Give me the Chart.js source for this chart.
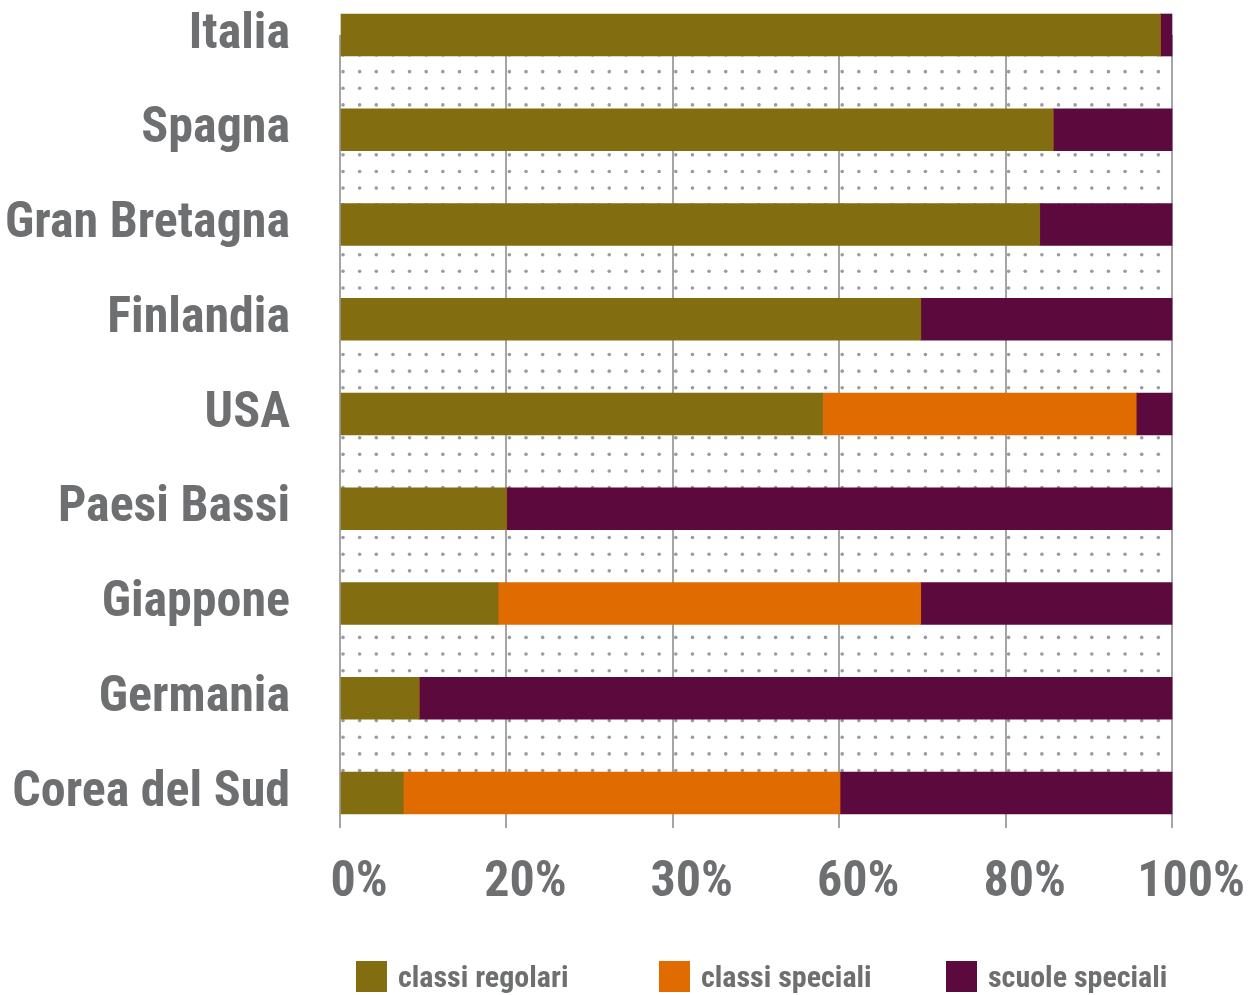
<!DOCTYPE html>
<html lang="it">
<head>
<meta charset="utf-8">
<title>Alunni con disabilità: classi regolari, classi speciali, scuole speciali</title>
<script src="https://cdn.jsdelivr.net/npm/chart.js@4/dist/chart.umd.min.js"></script>
<style>
  html, body { margin: 0; padding: 0; background: #fff; overflow: hidden; }
  #wrap { position: relative; width: 1254px; height: 995px; }
  #legend { position: absolute; left: 0; top: 0; width: 100%; height: 100%; pointer-events: none; }
  .item { position: absolute; top: 959px; display: flex; align-items: center;
          font-family: "Roboto Condensed", Roboto, sans-serif; font-stretch: condensed;
          font-weight: bold; font-size: 30px; color: #6e6f71; }
  .item .box { width: 31px; height: 31px; margin-right: 11px; }
</style>
</head>
<body>
<div id="wrap">
  <canvas id="chart"></canvas>
  <div id="legend"></div>
</div>
<script>
// paesi, dal primo in alto
const countries = ["Italia", "Spagna", "Gran Bretagna", "Finlandia", "USA",
                   "Paesi Bassi", "Giappone", "Germania", "Corea del Sud"];

// quote percentuali per paese
const classiRegolari = [98.6, 85.7, 84.1, 69.8, 58.0, 20.0, 19.0, 9.5, 7.6];
const classiSpeciali = [0, 0, 0, 0, 37.7, 0, 50.8, 0, 52.5];
const scuoleSpeciali = [1.4, 14.3, 15.9, 30.2, 4.3, 80.0, 30.2, 90.5, 39.9];

const xTickLabels = ["0%", "20%", "30%", "60%", "80%", "100%"];

const seriesNames = ["classi regolari", "classi speciali", "scuole speciali"];
const seriesColors = ["#826d10", "#e06b00", "#5c0a3e"];

const FONT = "'Roboto Condensed', Roboto, sans-serif";
const GREY = "#6e6f71";
const BAR = 42;

// sfondo a puntini dietro le barre
const dotGrid = {
  id: "dotGrid",
  beforeDraw(chart) {
    const { ctx, chartArea, scales } = chart;
    const top = scales.y.getPixelForValue(0) - BAR / 2;
    const bottom = scales.y.getPixelForValue(countries.length - 1) + BAR / 2;
    const step = (chartArea.right - chartArea.left) / 50;
    const yStart = top + BAR - 1;
    ctx.save();
    ctx.fillStyle = "#999aa6";
    for (let y = yStart - step * 3; y <= bottom; y += step) {
      if (y < top) continue;
      for (let x = chartArea.left + 3; x <= chartArea.right; x += step) {
        ctx.beginPath();
        ctx.arc(x, y, 1.8, 0, Math.PI * 2);
        ctx.fill();
      }
    }
    ctx.restore();
  }
};

const data = [classiRegolari, classiSpeciali, scuoleSpeciali];

new Chart(document.getElementById("chart"), {
  type: "bar",
  data: {
    labels: countries,
    datasets: data.map((values, i) => ({
      label: seriesNames[i],
      data: values,
      backgroundColor: seriesColors[i],
      barThickness: BAR,
      borderWidth: 0,
      clip: false
    }))
  },
  options: {
    indexAxis: "y",
    responsive: true,
    maintainAspectRatio: false,
    animation: false,
    layout: { padding: { top: 35, right: 82, bottom: 86, left: 0 } },
    plugins: {
      legend: { display: false },
      tooltip: { enabled: false }
    },
    scales: {
      x: {
        stacked: true,
        min: 0,
        max: 100,
        border: { display: false },
        grid: { color: "#a5a5a5", lineWidth: 2, drawTicks: true, tickLength: 35 },
        ticks: {
          stepSize: 20,
          padding: 25,
          labelOffset: 19,
          color: GREY,
          font: { family: FONT, weight: "bold", size: 50 },
          callback: (v, i) => xTickLabels[i]
        },
        afterFit: (scale) => {
          scale.height = 116;
          scale.paddingLeft = 0;
          scale.paddingRight = 0;
        }
      },
      y: {
        stacked: true,
        offset: false,
        border: { display: false },
        grid: { display: false, drawTicks: false },
        ticks: {
          padding: 50,
          color: GREY,
          font: { family: FONT, weight: "bold", size: 50 }
        },
        afterFit: (scale) => {
          scale.width = 340;
          scale.paddingTop = 0;
          scale.paddingBottom = 0;
        }
      }
    }
  },
  plugins: [dotGrid]
});

// legenda
const legendLeft = [356, 659, 946];
const legend = document.getElementById("legend");
seriesNames.forEach((name, i) => {
  const item = document.createElement("div");
  item.className = "item";
  item.style.left = legendLeft[i] + "px";
  const box = document.createElement("span");
  box.className = "box";
  box.style.background = seriesColors[i];
  const txt = document.createElement("span");
  txt.textContent = name;
  item.appendChild(box);
  item.appendChild(txt);
  legend.appendChild(item);
});
</script>
</body>
</html>
